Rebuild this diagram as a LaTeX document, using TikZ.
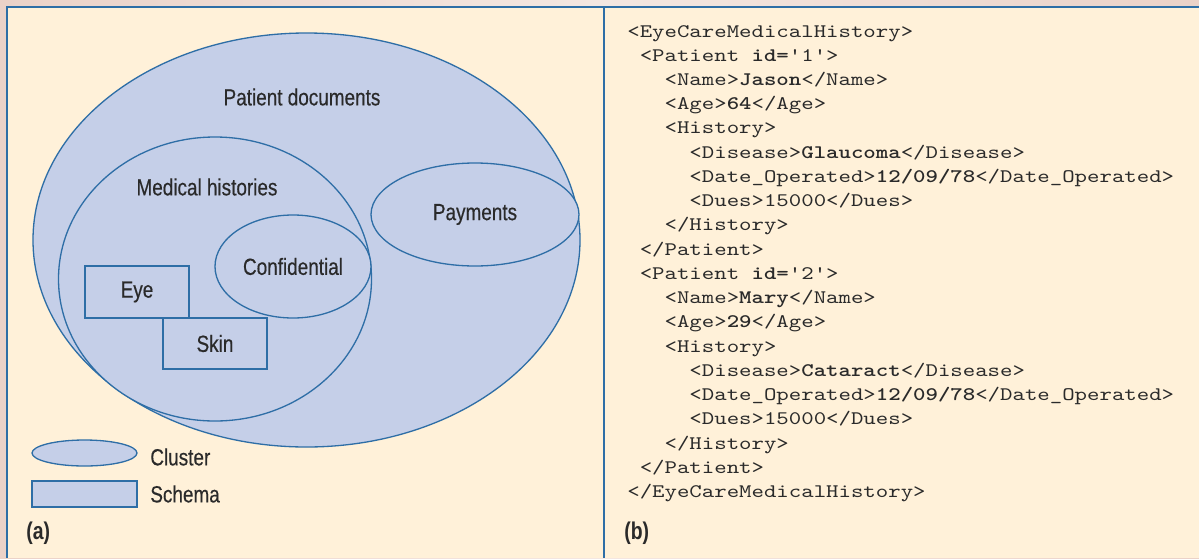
\documentclass[tikz,border=0pt]{standalone}
\usepackage{fontspec}
\newfontfamily\figsans[FakeStretch=0.81,FakeBold=0.4]{Liberation Sans}
\newfontfamily\tagsans{Liberation Sans}
\usetikzlibrary{positioning,shapes.geometric}
\definecolor{framepink}{HTML}{EBD2C8}
\definecolor{framelight}{HTML}{F4E7E1}
\definecolor{panelcream}{HTML}{FFF1D9}
\definecolor{setfill}{HTML}{C5CFE8}
\definecolor{setline}{HTML}{2E6EA6}
\definecolor{inktext}{HTML}{2A2A2A}
\newcommand{\xmlind}[1]{\hspace*{#1\fontcharwd\font`x}}
\newcommand{\paneltag}[1]{\scalebox{0.8}[1]{\tagsans\bfseries #1}}
\tikzset{
  wh/.style 2 args={minimum width=#1*0.02cm,minimum height=#2*0.02cm},
  cluster/.style={ellipse,draw=setline,fill=setfill,line width=0.75pt,inner sep=0pt,text=inktext},
  schema/.style={rectangle,draw=setline,fill=setfill,line width=0.75pt,inner sep=0pt,text=inktext},
  setlabel/.style={text=inktext,inner sep=0pt},
  panel tag/.style={setlabel,anchor=west,font=\fontsize{13.8}{16}\selectfont},
}
\begin{document}
\begin{tikzpicture}[x=0.02cm,y=-0.02cm,font=\figsans\fontsize{13.3}{16}\selectfont]
  \useasboundingbox (0,0) rectangle (1199,558);
  % frame and the two panels
  \shade[left color=framepink,right color=framepink,middle color=framelight] (0,0) rectangle (1199,558);
  \fill[panelcream] (7,7) rectangle (1199,558);
  \draw[setline,line width=1.2pt] (7,558) -- (7,7) -- (1199,7);
  \draw[setline,line width=1.1pt] (604,7) -- (604,558);

  % (a) clusters and schemas
  \node[cluster,wh={547}{414}] (docs) at (306.5,240) {};
  \node[setlabel] (docslbl) at (302,97) {Patient documents};
  \node[cluster,wh={313}{284}] (medical) at (215,279) {};
  \node[setlabel] (medicallbl) at (207,187) {Medical histories};
  \node[cluster,wh={208}{103}] (payments) at (475,214.5) {Payments};
  \node[cluster,wh={156}{103}] (confidential) at (293,266.5) {Confidential};
  \node[schema,wh={104}{52}] (eye) at (137,292) {Eye};
  \node[schema,wh={104}{51}] (skin) at (215,343.5) {Skin};

  % legend
  \node[cluster,wh={105}{26}] (legcluster) at (84.5,453) {};
  \node[setlabel,anchor=west] (legclusterlbl) at (150,457) {Cluster};
  \node[schema,wh={105}{26}] (legschema) at (84.5,494) {};
  \node[setlabel,anchor=west] (legschemalbl) at (150,494) {Schema};
  \node[panel tag] (taga) at (26,533) {\paneltag{(a)}};

  % (b) the XML document
  \node[anchor=base west,inner sep=0pt,text=inktext,font=\ttfamily\fontsize{10.9}{13.8}\selectfont] (xml) at (627,37) {\scalebox{1.236}[1]{\begin{tabular}[t]{@{}l@{}}
<EyeCareMedicalHistory>\\
\xmlind1<Patient \textbf{id=}'1'>\\
\xmlind3<Name>\textbf{Jason}</Name>\\
\xmlind3<Age>\textbf{64}</Age>\\
\xmlind3<History>\\
\xmlind5<Disease>\textbf{Glaucoma}</Disease>\\
\xmlind5<Date\_Operated>\textbf{12/09/78}</Date\_Operated>\\
\xmlind5<Dues>15000</Dues>\\
\xmlind3</History>\\
\xmlind1</Patient>\\
\xmlind1<Patient \textbf{id=}'2'>\\
\xmlind3<Name>\textbf{Mary}</Name>\\
\xmlind3<Age>\textbf{29}</Age>\\
\xmlind3<History>\\
\xmlind5<Disease>\textbf{Cataract}</Disease>\\
\xmlind5<Date\_Operated>\textbf{12/09/78}</Date\_Operated>\\
\xmlind5<Dues>15000</Dues>\\
\xmlind3</History>\\
\xmlind1</Patient>\\
</EyeCareMedicalHistory>
\end{tabular}}};
  \node[panel tag] (tagb) at (624,533) {\paneltag{(b)}};
\end{tikzpicture}
\end{document}
